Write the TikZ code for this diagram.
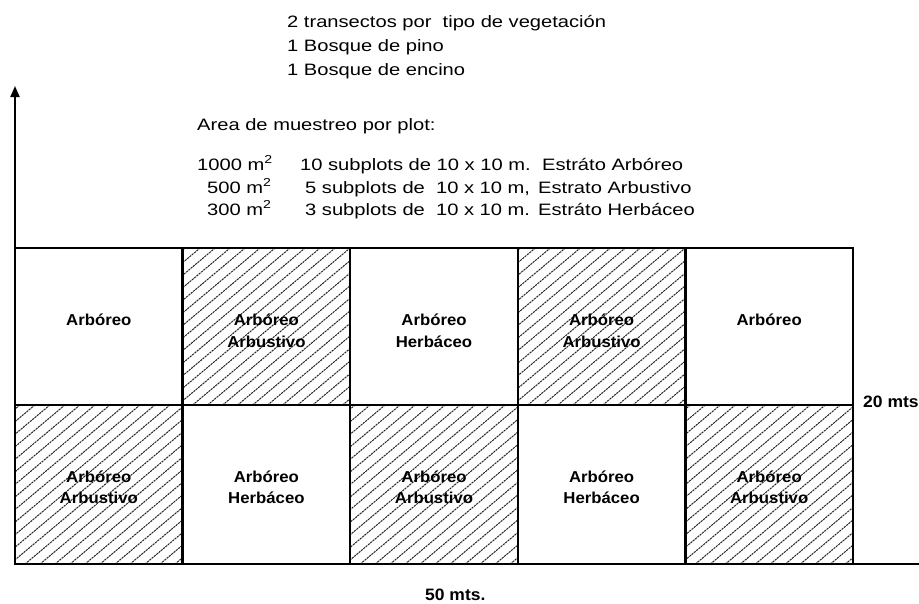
\documentclass[tikz,border=0pt]{standalone}
\usepackage{fontspec}
\setmainfont{Liberation Sans}[FakeStretch=1.22]
\newfontfamily\lblfont{Liberation Sans}[FakeStretch=1.06]
\usetikzlibrary{arrows.meta}
\begin{document}
\begin{tikzpicture}[x=1pt,y=-1pt,
  cellbox/.style={rectangle,inner sep=0pt,minimum width=167.6pt},
  toprow/.style={minimum height=157pt},
  botrow/.style={minimum height=159pt},
  lab/.style={anchor=base,inner sep=0pt,font=\lblfont\bfseries\fontsize{15.8}{18}\selectfont},
  txt/.style={anchor=base west,inner sep=0pt,font=\fontsize{16.5}{19}\selectfont},
  dim/.style={anchor=base west,inner sep=0pt,font=\lblfont\bfseries\fontsize{16.5}{19}\selectfont},
  hatch/.style={draw=black!85,line width=1pt,dash pattern=on 2.2pt off 0.8pt},
  border/.style={line width=2pt},
  axis/.style={line width=2pt}
]
\useasboundingbox (0,0) rectangle (919,603);

% header text
\node[txt] (t1) at (287,27) {2 transectos por\ \ tipo de vegetación};
\node[txt] (t2) at (287,51) {1 Bosque de pino};
\node[txt] (t3) at (287,75) {1 Bosque de encino};
\node[txt] (t4) at (197,130) {Area de muestreo por plot:};
\node[txt] (a1) at (197,170) {1000 m\textsuperscript{2}};
\node[txt] (a2) at (207,193) {500 m\textsuperscript{2}};
\node[txt] (a3) at (207,215) {300 m\textsuperscript{2}};
\node[txt] (s1) at (300,170) {10 subplots de 10 x 10 m.};
\node[txt] (s2) at (305,193) {5 subplots de\ \ 10 x 10 m,};
\node[txt] (s3) at (305,215) {3 subplots de\ \ 10 x 10 m.};
\node[txt] (e1) at (542,170) {Estráto Arbóreo};
\node[txt] (e2) at (538,193) {Estrato Arbustivo};
\node[txt] (e3) at (538,215) {Estráto Herbáceo};

% cells (geometry)
\path node[cellbox,toprow] (c11) at (98.8,326.5) {}
      node[cellbox,toprow] (c12) at (266.4,326.5) {}
      node[cellbox,toprow] (c13) at (434.0,326.5) {}
      node[cellbox,toprow] (c14) at (601.6,326.5) {}
      node[cellbox,toprow] (c15) at (769.2,326.5) {}
      node[cellbox,botrow] (c21) at (98.8,484.5) {}
      node[cellbox,botrow] (c22) at (266.4,484.5) {}
      node[cellbox,botrow] (c23) at (434.0,484.5) {}
      node[cellbox,botrow] (c24) at (601.6,484.5) {}
      node[cellbox,botrow] (c25) at (769.2,484.5) {};

% hatching
\foreach \c in {c12,c14,c21,c23,c25}{
  \begin{scope}
    \clip (\c.south west) rectangle (\c.north east);
    \foreach \k in {-200,-185,...,170}{
      \draw[hatch] ([xshift=\k pt]\c.south west) -- ++(240pt,201pt);
    }
  \end{scope}
}

% cell borders
\foreach \c in {c11,c12,c13,c14,c15,c21,c22,c23,c24,c25}{
  \draw[border] (\c.south west) rectangle (\c.north east);
}

% axes
\coordinate (O) at (15,564);
\coordinate (Ytop) at (15,86);
\coordinate (Xend) at (919,564);
\draw[axis,-{Triangle[length=11pt,width=9pt]}] (O) -- (Ytop);
\draw[axis] (O) -- (Xend);

% labels top row
\node[lab] (l11) at (98.8,325) {Arbóreo};
\node[lab] (l12a) at (266.4,325) {Arbóreo};
\node[lab] (l12b) at (266.4,347) {Arbustivo};
\node[lab] (l13a) at (434.0,325) {Arbóreo};
\node[lab] (l13b) at (434.0,347) {Herbáceo};
\node[lab] (l14a) at (601.6,325) {Arbóreo};
\node[lab] (l14b) at (601.6,347) {Arbustivo};
\node[lab] (l15) at (769.2,325) {Arbóreo};
% labels bottom row
\node[lab] (l21a) at (98.8,482) {Arbóreo};
\node[lab] (l21b) at (98.8,503) {Arbustivo};
\node[lab] (l22a) at (266.4,482) {Arbóreo};
\node[lab] (l22b) at (266.4,503) {Herbáceo};
\node[lab] (l23a) at (434.0,482) {Arbóreo};
\node[lab] (l23b) at (434.0,503) {Arbustivo};
\node[lab] (l24a) at (601.6,482) {Arbóreo};
\node[lab] (l24b) at (601.6,503) {Herbáceo};
\node[lab] (l25a) at (769.2,482) {Arbóreo};
\node[lab] (l25b) at (769.2,503) {Arbustivo};

% dimensions
\node[dim] (d20) at (863,407) {20 mts};
\node[dim] (d50) at (425,600) {50 mts.};
\end{tikzpicture}
\end{document}
